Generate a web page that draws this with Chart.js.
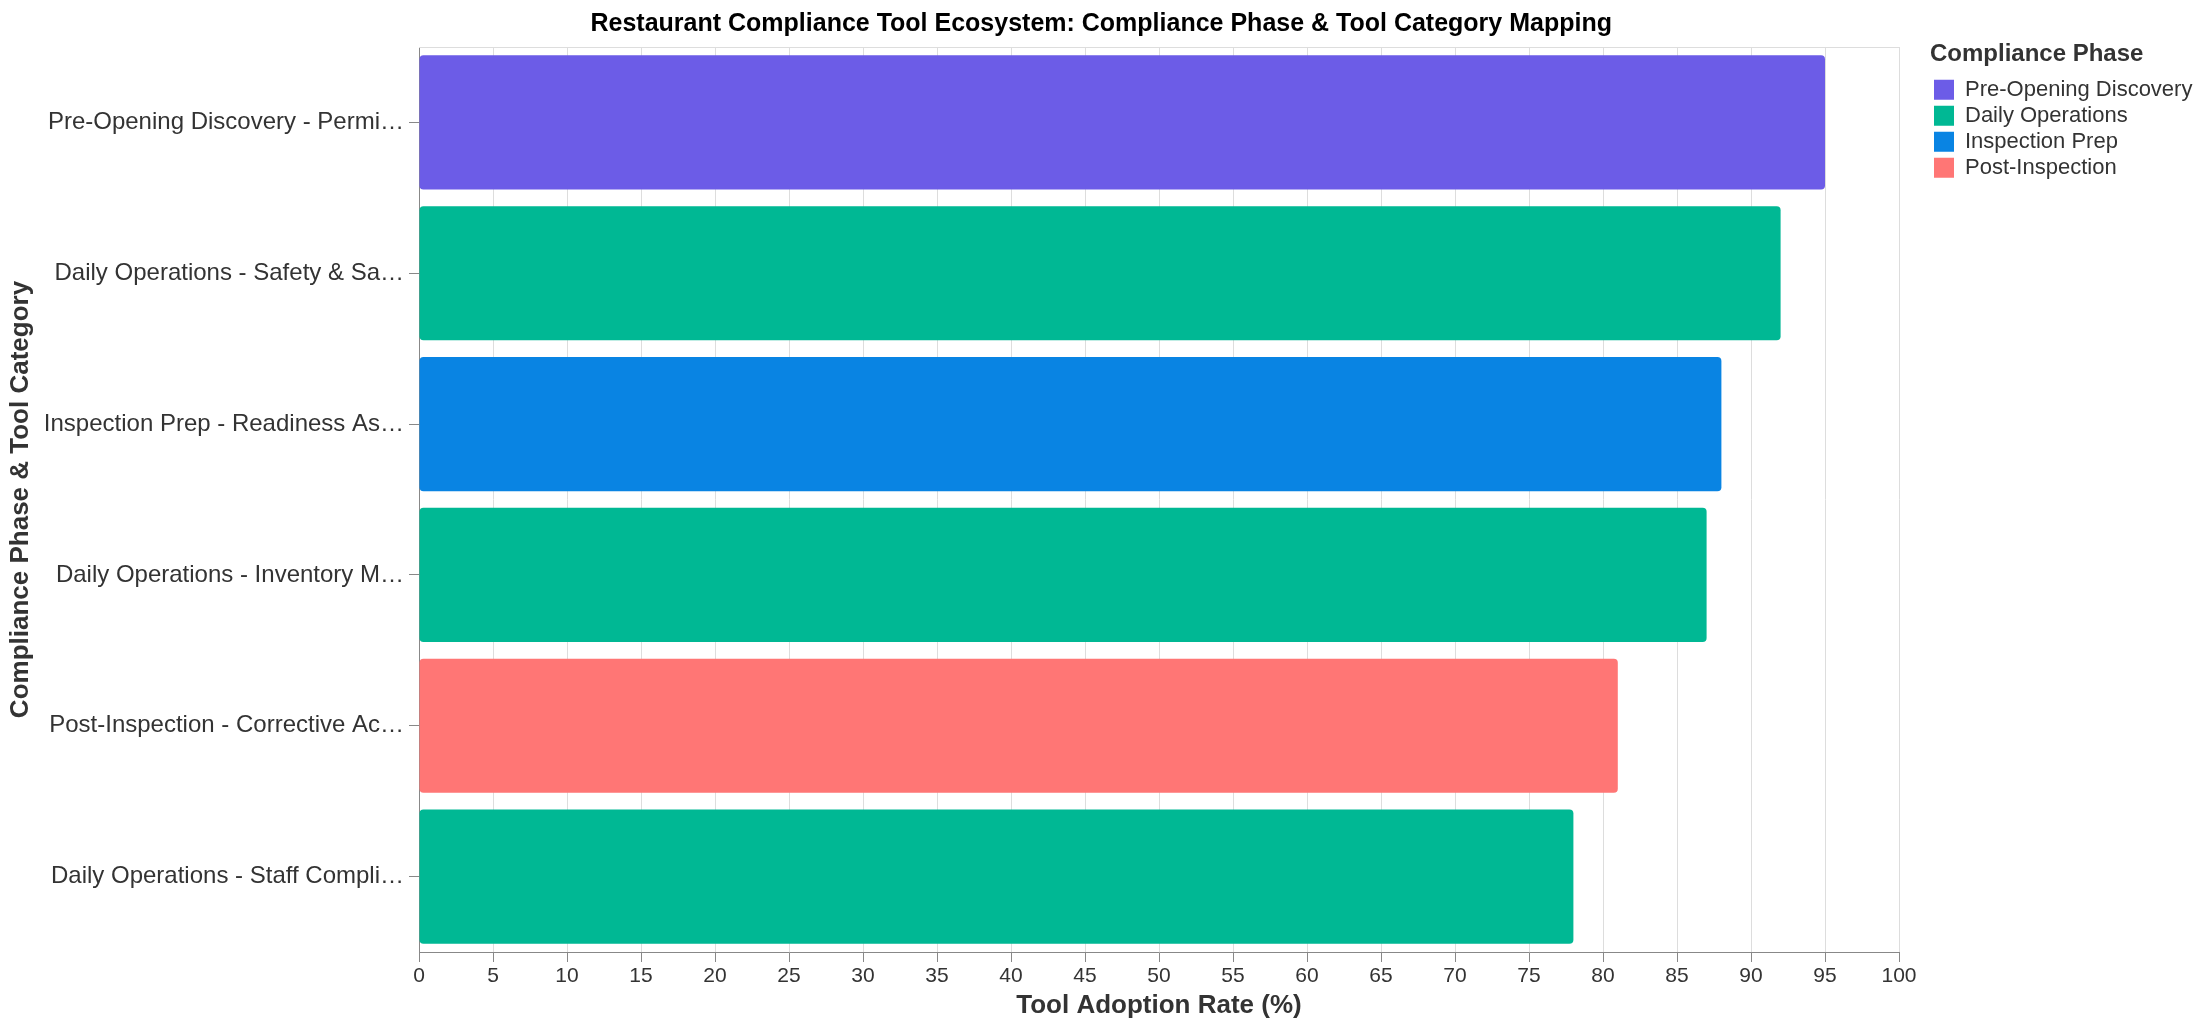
<!DOCTYPE html>
<html>
<head>
<meta charset="utf-8">
<title>Restaurant Compliance Tool Ecosystem</title>
<script src="https://cdn.jsdelivr.net/npm/chart.js@4.4.0/dist/chart.umd.min.js"></script>
<style>
  html, body { margin: 0; padding: 0; background: #fff; }
</style>
</head>
<body>
<canvas id="complianceChart" width="2204" height="1024"></canvas>
<script>
// dados (rótulos já aparecem truncados na imagem)
const categories = [
  'Pre-Opening Discovery - Permi…',
  'Daily Operations - Safety & Sa…',
  'Inspection Prep - Readiness As…',
  'Daily Operations - Inventory M…',
  'Post-Inspection - Corrective Ac…',
  'Daily Operations - Staff Compli…'
];
const barPhases = [
  'Pre-Opening Discovery',
  'Daily Operations',
  'Inspection Prep',
  'Daily Operations',
  'Post-Inspection',
  'Daily Operations'
];
const adoptionRates = [95, 92, 88, 87, 81, 78];

const phaseNames = ['Pre-Opening Discovery', 'Daily Operations', 'Inspection Prep', 'Post-Inspection'];
const phaseColors = ['#6C5CE7', '#00B894', '#0984E3', '#FF7675'];

const FONT = "'Liberation Sans', Arial, Helvetica, sans-serif";
const colorFor = phase => phaseColors[phaseNames.indexOf(phase)];

// linha superior da moldura do gráfico
const plotFrame = {
  id: 'plotFrame',
  beforeDatasetsDraw(chart) {
    const { ctx, chartArea } = chart;
    ctx.save();
    ctx.strokeStyle = '#dddddd';
    ctx.lineWidth = 1;
    ctx.beginPath();
    ctx.moveTo(chartArea.left, Math.round(chartArea.top) + 0.5);
    ctx.lineTo(chartArea.right, Math.round(chartArea.top) + 0.5);
    ctx.stroke();
    ctx.restore();
  }
};

const ctx = document.getElementById('complianceChart').getContext('2d');

const chart = new Chart(ctx, {
  type: 'bar',
  data: {
    labels: categories,
    datasets: [{
      label: 'Tool Adoption Rate (%)',
      data: adoptionRates,
      backgroundColor: barPhases.map(colorFor),
      borderWidth: 0,
      borderRadius: 4,
      borderSkipped: false,
      barPercentage: 0.89,
      categoryPercentage: 1.0
    }]
  },
  options: {
    indexAxis: 'y',
    responsive: false,
    animation: false,
    layout: { padding: { left: 0, right: 0, top: 0, bottom: 0 } },
    plugins: {
      title: {
        display: true,
        text: 'Restaurant Compliance Tool Ecosystem: Compliance Phase & Tool Category Mapping',
        color: '#000000',
        font: { family: FONT, size: 25, weight: 'bold' },
        padding: { top: 9, bottom: 8 }
      },
      legend: {
        position: 'right',
        align: 'start',
        title: {
          display: true,
          text: 'Compliance Phase',
          position: 'start',
          color: '#333333',
          font: { family: FONT, size: 24, weight: 'bold' },
          padding: { top: 42, bottom: 4 }
        },
        labels: {
          boxWidth: 20,
          boxHeight: 20,
          padding: 4,
          color: '#333333',
          font: { family: FONT, size: 22 },
          generateLabels: () => phaseNames.map((name, i) => ({
            text: name,
            fillStyle: phaseColors[i],
            strokeStyle: phaseColors[i],
            lineWidth: 0,
            fontColor: '#333333',
            hidden: false,
            index: i
          }))
        }
      },
      tooltip: { enabled: false }
    },
    scales: {
      x: {
        min: 0,
        max: 100,
        ticks: {
          stepSize: 5,
          color: '#333333',
          padding: 2,
          font: { family: FONT, size: 21 }
        },
        grid: {
          color: '#dddddd',
          tickColor: '#888888',
          tickLength: 10
        },
        border: { color: '#888888', width: 1 },
        title: {
          display: true,
          text: 'Tool Adoption Rate (%)',
          color: '#333333',
          font: { family: FONT, size: 26, weight: 'bold' },
          padding: { top: 0, bottom: 3 }
        },
        afterFit: scale => { scale.height = 72; }
      },
      y: {
        ticks: {
          color: '#333333',
          padding: 5,
          autoSkip: false,
          font: { family: FONT, size: 24 }
        },
        grid: {
          offset: false,
          drawOnChartArea: false,
          tickColor: '#888888',
          tickLength: 10
        },
        border: { color: '#888888', width: 1 },
        title: {
          display: true,
          text: 'Compliance Phase & Tool Category',
          color: '#333333',
          font: { family: FONT, size: 26, weight: 'bold' },
          padding: { top: 5, bottom: 0 }
        },
        afterFit: scale => { scale.width = 419; }
      },
      // espaço entre a área do gráfico e a legenda
      gap: {
        type: 'linear',
        position: 'right',
        display: true,
        grid: { display: false },
        ticks: { display: false },
        border: { display: false },
        afterFit: scale => { scale.width = 31; }
      }
    }
  },
  plugins: [plotFrame]
});

// ajustar o padding direito para a legenda começar na posição certa
const legendWidth = chart.legend.width;
chart.options.layout.padding.right = Math.max(0, 2204 - 1930 - legendWidth);
chart.update();
</script>
</body>
</html>
